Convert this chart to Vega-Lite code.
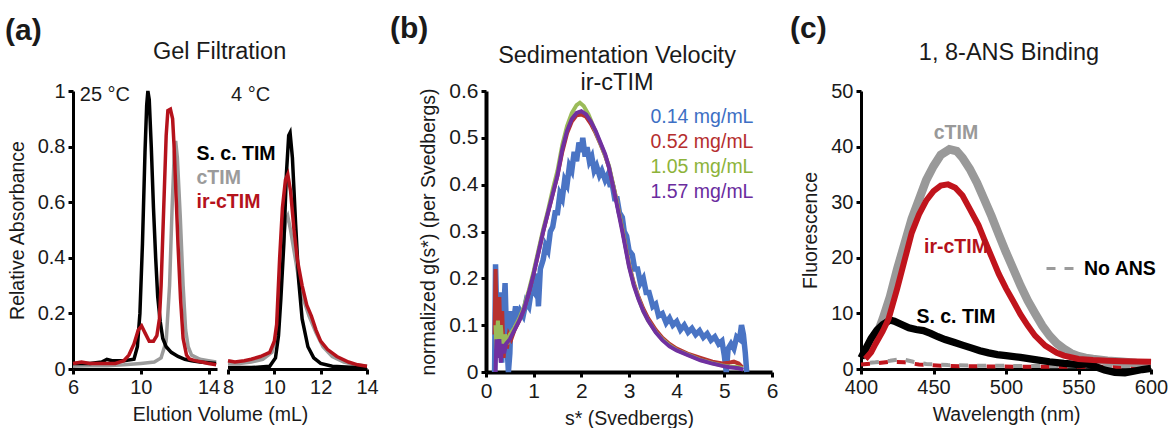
{
 "$schema": "https://vega.github.io/schema/vega-lite/v6.json",
 "padding": {"left": 5, "top": 14, "right": 0, "bottom": 0},
 "background": "white",
 "config": {
  "font": "Liberation Sans",
  "view": {"stroke": null},
  "axis": {"domainColor": "#000", "domainWidth": 3, "tickColor": "#000", "tickWidth": 3, "tickSize": 5, "grid": false, "labelFontSize": 20, "labelColor": "#1a1a1a", "titleFontSize": 19.5, "titleFontWeight": "normal", "titleColor": "#1a1a1a", "labelPadding": 3, "titlePadding": 8, "labelFlush": false},
  "title": {"color": "#1a1a1a", "baseline": "bottom"},
  "legend": {"labelFont": "Liberation Sans"}
 },
 "datasets": {
  "gel": [
   {"temp":"25","protein":"cTIM","vol":6.0,"abs":0.01},{"temp":"25","protein":"cTIM","vol":7.0,"abs":0.012},{"temp":"25","protein":"cTIM","vol":8.0,"abs":0.012},{"temp":"25","protein":"cTIM","vol":9.0,"abs":0.015},{"temp":"25","protein":"cTIM","vol":10.0,"abs":0.02},{"temp":"25","protein":"cTIM","vol":10.8,"abs":0.025},{"temp":"25","protein":"cTIM","vol":11.2,"abs":0.04},{"temp":"25","protein":"cTIM","vol":11.5,"abs":0.1},{"temp":"25","protein":"cTIM","vol":11.7,"abs":0.3},{"temp":"25","protein":"cTIM","vol":11.85,"abs":0.58},{"temp":"25","protein":"cTIM","vol":11.98,"abs":0.78},{"temp":"25","protein":"cTIM","vol":12.06,"abs":0.82},{"temp":"25","protein":"cTIM","vol":12.16,"abs":0.76},{"temp":"25","protein":"cTIM","vol":12.33,"abs":0.55},{"temp":"25","protein":"cTIM","vol":12.5,"abs":0.3},{"temp":"25","protein":"cTIM","vol":12.65,"abs":0.14},{"temp":"25","protein":"cTIM","vol":12.8,"abs":0.08},{"temp":"25","protein":"cTIM","vol":13.0,"abs":0.05},{"temp":"25","protein":"cTIM","vol":13.5,"abs":0.035},{"temp":"25","protein":"cTIM","vol":14.0,"abs":0.03},{"temp":"25","protein":"cTIM","vol":14.45,"abs":0.025},
   {"temp":"25","protein":"S. c. TIM","vol":6.0,"abs":0.02},{"temp":"25","protein":"S. c. TIM","vol":7.0,"abs":0.02},{"temp":"25","protein":"S. c. TIM","vol":7.7,"abs":0.025},{"temp":"25","protein":"S. c. TIM","vol":8.0,"abs":0.035},{"temp":"25","protein":"S. c. TIM","vol":8.3,"abs":0.03},{"temp":"25","protein":"S. c. TIM","vol":9.0,"abs":0.03},{"temp":"25","protein":"S. c. TIM","vol":9.6,"abs":0.035},{"temp":"25","protein":"S. c. TIM","vol":9.8,"abs":0.08},{"temp":"25","protein":"S. c. TIM","vol":9.95,"abs":0.2},{"temp":"25","protein":"S. c. TIM","vol":10.1,"abs":0.45},{"temp":"25","protein":"S. c. TIM","vol":10.25,"abs":0.78},{"temp":"25","protein":"S. c. TIM","vol":10.35,"abs":0.95},{"temp":"25","protein":"S. c. TIM","vol":10.42,"abs":1.0},{"temp":"25","protein":"S. c. TIM","vol":10.5,"abs":0.97},{"temp":"25","protein":"S. c. TIM","vol":10.62,"abs":0.8},{"temp":"25","protein":"S. c. TIM","vol":10.75,"abs":0.58},{"temp":"25","protein":"S. c. TIM","vol":10.88,"abs":0.4},{"temp":"25","protein":"S. c. TIM","vol":11.0,"abs":0.26},{"temp":"25","protein":"S. c. TIM","vol":11.15,"abs":0.17},{"temp":"25","protein":"S. c. TIM","vol":11.3,"abs":0.11},{"temp":"25","protein":"S. c. TIM","vol":11.5,"abs":0.08},{"temp":"25","protein":"S. c. TIM","vol":11.8,"abs":0.06},{"temp":"25","protein":"S. c. TIM","vol":12.2,"abs":0.045},{"temp":"25","protein":"S. c. TIM","vol":12.6,"abs":0.035},{"temp":"25","protein":"S. c. TIM","vol":13.0,"abs":0.03},{"temp":"25","protein":"S. c. TIM","vol":13.5,"abs":0.025},{"temp":"25","protein":"S. c. TIM","vol":14.45,"abs":0.02},
   {"temp":"25","protein":"ir-cTIM","vol":6.0,"abs":0.02},{"temp":"25","protein":"ir-cTIM","vol":6.5,"abs":0.025},{"temp":"25","protein":"ir-cTIM","vol":7.0,"abs":0.02},{"temp":"25","protein":"ir-cTIM","vol":7.5,"abs":0.02},{"temp":"25","protein":"ir-cTIM","vol":8.0,"abs":0.02},{"temp":"25","protein":"ir-cTIM","vol":8.5,"abs":0.02},{"temp":"25","protein":"ir-cTIM","vol":9.0,"abs":0.03},{"temp":"25","protein":"ir-cTIM","vol":9.3,"abs":0.05},{"temp":"25","protein":"ir-cTIM","vol":9.6,"abs":0.09},{"temp":"25","protein":"ir-cTIM","vol":9.85,"abs":0.14},{"temp":"25","protein":"ir-cTIM","vol":10.05,"abs":0.155},{"temp":"25","protein":"ir-cTIM","vol":10.25,"abs":0.13},{"temp":"25","protein":"ir-cTIM","vol":10.5,"abs":0.1},{"temp":"25","protein":"ir-cTIM","vol":10.75,"abs":0.1},{"temp":"25","protein":"ir-cTIM","vol":10.95,"abs":0.12},{"temp":"25","protein":"ir-cTIM","vol":11.1,"abs":0.18},{"temp":"25","protein":"ir-cTIM","vol":11.2,"abs":0.3},{"temp":"25","protein":"ir-cTIM","vol":11.35,"abs":0.57},{"temp":"25","protein":"ir-cTIM","vol":11.5,"abs":0.84},{"temp":"25","protein":"ir-cTIM","vol":11.6,"abs":0.93},{"temp":"25","protein":"ir-cTIM","vol":11.75,"abs":0.935},{"temp":"25","protein":"ir-cTIM","vol":11.88,"abs":0.9},{"temp":"25","protein":"ir-cTIM","vol":11.96,"abs":0.81},{"temp":"25","protein":"ir-cTIM","vol":12.1,"abs":0.6},{"temp":"25","protein":"ir-cTIM","vol":12.2,"abs":0.445},{"temp":"25","protein":"ir-cTIM","vol":12.35,"abs":0.25},{"temp":"25","protein":"ir-cTIM","vol":12.5,"abs":0.11},{"temp":"25","protein":"ir-cTIM","vol":12.7,"abs":0.05},{"temp":"25","protein":"ir-cTIM","vol":12.87,"abs":0.036},{"temp":"25","protein":"ir-cTIM","vol":13.2,"abs":0.03},{"temp":"25","protein":"ir-cTIM","vol":13.6,"abs":0.025},{"temp":"25","protein":"ir-cTIM","vol":14.0,"abs":0.02},{"temp":"25","protein":"ir-cTIM","vol":14.45,"abs":0.015},
   {"temp":"4","protein":"cTIM","vol":8.0,"abs":0.02},{"temp":"4","protein":"cTIM","vol":8.5,"abs":0.02},{"temp":"4","protein":"cTIM","vol":9.0,"abs":0.025},{"temp":"4","protein":"cTIM","vol":9.5,"abs":0.035},{"temp":"4","protein":"cTIM","vol":9.9,"abs":0.06},{"temp":"4","protein":"cTIM","vol":10.1,"abs":0.13},{"temp":"4","protein":"cTIM","vol":10.3,"abs":0.38},{"temp":"4","protein":"cTIM","vol":10.48,"abs":0.53},{"temp":"4","protein":"cTIM","vol":10.58,"abs":0.55},{"temp":"4","protein":"cTIM","vol":10.7,"abs":0.5},{"temp":"4","protein":"cTIM","vol":10.9,"abs":0.4},{"temp":"4","protein":"cTIM","vol":11.1,"abs":0.3},{"temp":"4","protein":"cTIM","vol":11.3,"abs":0.24},{"temp":"4","protein":"cTIM","vol":11.5,"abs":0.19},{"temp":"4","protein":"cTIM","vol":11.8,"abs":0.13},{"temp":"4","protein":"cTIM","vol":12.1,"abs":0.08},{"temp":"4","protein":"cTIM","vol":12.5,"abs":0.045},{"temp":"4","protein":"cTIM","vol":13.0,"abs":0.025},{"temp":"4","protein":"cTIM","vol":13.5,"abs":0.015},{"temp":"4","protein":"cTIM","vol":14.0,"abs":0.01},
   {"temp":"4","protein":"S. c. TIM","vol":8.0,"abs":0.005},{"temp":"4","protein":"S. c. TIM","vol":9.0,"abs":0.005},{"temp":"4","protein":"S. c. TIM","vol":9.8,"abs":0.01},{"temp":"4","protein":"S. c. TIM","vol":10.05,"abs":0.04},{"temp":"4","protein":"S. c. TIM","vol":10.18,"abs":0.12},{"temp":"4","protein":"S. c. TIM","vol":10.28,"abs":0.25},{"temp":"4","protein":"S. c. TIM","vol":10.41,"abs":0.45},{"temp":"4","protein":"S. c. TIM","vol":10.52,"abs":0.7},{"temp":"4","protein":"S. c. TIM","vol":10.62,"abs":0.84},{"temp":"4","protein":"S. c. TIM","vol":10.68,"abs":0.85},{"temp":"4","protein":"S. c. TIM","vol":10.78,"abs":0.76},{"temp":"4","protein":"S. c. TIM","vol":10.92,"abs":0.52},{"temp":"4","protein":"S. c. TIM","vol":11.05,"abs":0.32},{"temp":"4","protein":"S. c. TIM","vol":11.2,"abs":0.18},{"temp":"4","protein":"S. c. TIM","vol":11.45,"abs":0.08},{"temp":"4","protein":"S. c. TIM","vol":11.7,"abs":0.04},{"temp":"4","protein":"S. c. TIM","vol":12.0,"abs":0.02},{"temp":"4","protein":"S. c. TIM","vol":12.5,"abs":0.01},{"temp":"4","protein":"S. c. TIM","vol":13.5,"abs":0.005},{"temp":"4","protein":"S. c. TIM","vol":14.0,"abs":0.005},
   {"temp":"4","protein":"ir-cTIM","vol":8.0,"abs":0.03},{"temp":"4","protein":"ir-cTIM","vol":8.3,"abs":0.025},{"temp":"4","protein":"ir-cTIM","vol":8.7,"abs":0.03},{"temp":"4","protein":"ir-cTIM","vol":9.0,"abs":0.035},{"temp":"4","protein":"ir-cTIM","vol":9.4,"abs":0.045},{"temp":"4","protein":"ir-cTIM","vol":9.8,"abs":0.06},{"temp":"4","protein":"ir-cTIM","vol":10.0,"abs":0.1},{"temp":"4","protein":"ir-cTIM","vol":10.1,"abs":0.16},{"temp":"4","protein":"ir-cTIM","vol":10.23,"abs":0.4},{"temp":"4","protein":"ir-cTIM","vol":10.35,"abs":0.58},{"temp":"4","protein":"ir-cTIM","vol":10.48,"abs":0.68},{"temp":"4","protein":"ir-cTIM","vol":10.58,"abs":0.7},{"temp":"4","protein":"ir-cTIM","vol":10.7,"abs":0.64},{"temp":"4","protein":"ir-cTIM","vol":10.85,"abs":0.5},{"temp":"4","protein":"ir-cTIM","vol":11.0,"abs":0.39},{"temp":"4","protein":"ir-cTIM","vol":11.2,"abs":0.3},{"temp":"4","protein":"ir-cTIM","vol":11.4,"abs":0.23},{"temp":"4","protein":"ir-cTIM","vol":11.6,"abs":0.19},{"temp":"4","protein":"ir-cTIM","vol":11.8,"abs":0.14},{"temp":"4","protein":"ir-cTIM","vol":12.0,"abs":0.1},{"temp":"4","protein":"ir-cTIM","vol":12.3,"abs":0.07},{"temp":"4","protein":"ir-cTIM","vol":12.7,"abs":0.045},{"temp":"4","protein":"ir-cTIM","vol":13.2,"abs":0.025},{"temp":"4","protein":"ir-cTIM","vol":13.6,"abs":0.015},{"temp":"4","protein":"ir-cTIM","vol":14.0,"abs":0.01}
  ],
  "sed": [
   {"conc":"0.14 mg/mL","s":0.18,"g":0},{"conc":"0.14 mg/mL","s":0.2,"g":0.23},{"conc":"0.14 mg/mL","s":0.23,"g":0.1},{"conc":"0.14 mg/mL","s":0.26,"g":0.05},{"conc":"0.14 mg/mL","s":0.3,"g":0.17},{"conc":"0.14 mg/mL","s":0.33,"g":0.02},{"conc":"0.14 mg/mL","s":0.36,"g":0.1},{"conc":"0.14 mg/mL","s":0.4,"g":0.19},{"conc":"0.14 mg/mL","s":0.43,"g":0.08},{"conc":"0.14 mg/mL","s":0.47,"g":0},{"conc":"0.14 mg/mL","s":0.5,"g":0.04},{"conc":"0.14 mg/mL","s":0.53,"g":0.13},{"conc":"0.14 mg/mL","s":0.57,"g":0.1},{"conc":"0.14 mg/mL","s":0.62,"g":0.14},{"conc":"0.14 mg/mL","s":0.67,"g":0.11},{"conc":"0.14 mg/mL","s":0.72,"g":0.13},{"conc":"0.14 mg/mL","s":0.78,"g":0.12},{"conc":"0.14 mg/mL","s":0.84,"g":0.15},{"conc":"0.14 mg/mL","s":0.9,"g":0.14},{"conc":"0.14 mg/mL","s":0.96,"g":0.18},{"conc":"0.14 mg/mL","s":1.02,"g":0.17},{"conc":"0.14 mg/mL","s":1.07,"g":0.21},{"conc":"0.14 mg/mL","s":1.1,"g":0.14},{"conc":"0.14 mg/mL","s":1.14,"g":0.22},{"conc":"0.14 mg/mL","s":1.2,"g":0.24},{"conc":"0.14 mg/mL","s":1.25,"g":0.27},{"conc":"0.14 mg/mL","s":1.3,"g":0.26},{"conc":"0.14 mg/mL","s":1.35,"g":0.3},{"conc":"0.14 mg/mL","s":1.4,"g":0.31},{"conc":"0.14 mg/mL","s":1.45,"g":0.34},{"conc":"0.14 mg/mL","s":1.5,"g":0.34},{"conc":"0.14 mg/mL","s":1.55,"g":0.38},{"conc":"0.14 mg/mL","s":1.6,"g":0.37},{"conc":"0.14 mg/mL","s":1.65,"g":0.41},{"conc":"0.14 mg/mL","s":1.7,"g":0.4},{"conc":"0.14 mg/mL","s":1.75,"g":0.44},{"conc":"0.14 mg/mL","s":1.8,"g":0.43},{"conc":"0.14 mg/mL","s":1.85,"g":0.47},{"conc":"0.14 mg/mL","s":1.9,"g":0.45},{"conc":"0.14 mg/mL","s":1.95,"g":0.49},{"conc":"0.14 mg/mL","s":2.0,"g":0.47},{"conc":"0.14 mg/mL","s":2.03,"g":0.5},{"conc":"0.14 mg/mL","s":2.08,"g":0.46},{"conc":"0.14 mg/mL","s":2.12,"g":0.48},{"conc":"0.14 mg/mL","s":2.17,"g":0.45},{"conc":"0.14 mg/mL","s":2.22,"g":0.46},{"conc":"0.14 mg/mL","s":2.27,"g":0.43},{"conc":"0.14 mg/mL","s":2.32,"g":0.44},{"conc":"0.14 mg/mL","s":2.38,"g":0.42},{"conc":"0.14 mg/mL","s":2.43,"g":0.43},{"conc":"0.14 mg/mL","s":2.5,"g":0.41},{"conc":"0.14 mg/mL","s":2.55,"g":0.42},{"conc":"0.14 mg/mL","s":2.6,"g":0.4},{"conc":"0.14 mg/mL","s":2.65,"g":0.4},{"conc":"0.14 mg/mL","s":2.7,"g":0.37},{"conc":"0.14 mg/mL","s":2.75,"g":0.37},{"conc":"0.14 mg/mL","s":2.8,"g":0.34},{"conc":"0.14 mg/mL","s":2.86,"g":0.33},{"conc":"0.14 mg/mL","s":2.9,"g":0.3},{"conc":"0.14 mg/mL","s":2.95,"g":0.29},{"conc":"0.14 mg/mL","s":3.0,"g":0.26},{"conc":"0.14 mg/mL","s":3.07,"g":0.25},{"conc":"0.14 mg/mL","s":3.12,"g":0.22},{"conc":"0.14 mg/mL","s":3.18,"g":0.22},{"conc":"0.14 mg/mL","s":3.24,"g":0.19},{"conc":"0.14 mg/mL","s":3.3,"g":0.2},{"conc":"0.14 mg/mL","s":3.36,"g":0.17},{"conc":"0.14 mg/mL","s":3.42,"g":0.17},{"conc":"0.14 mg/mL","s":3.5,"g":0.14},{"conc":"0.14 mg/mL","s":3.56,"g":0.145},{"conc":"0.14 mg/mL","s":3.62,"g":0.12},{"conc":"0.14 mg/mL","s":3.7,"g":0.125},{"conc":"0.14 mg/mL","s":3.78,"g":0.105},{"conc":"0.14 mg/mL","s":3.85,"g":0.115},{"conc":"0.14 mg/mL","s":3.92,"g":0.1},{"conc":"0.14 mg/mL","s":4.0,"g":0.108},{"conc":"0.14 mg/mL","s":4.08,"g":0.09},{"conc":"0.14 mg/mL","s":4.16,"g":0.1},{"conc":"0.14 mg/mL","s":4.24,"g":0.085},{"conc":"0.14 mg/mL","s":4.32,"g":0.093},{"conc":"0.14 mg/mL","s":4.4,"g":0.08},{"conc":"0.14 mg/mL","s":4.48,"g":0.088},{"conc":"0.14 mg/mL","s":4.56,"g":0.074},{"conc":"0.14 mg/mL","s":4.64,"g":0.082},{"conc":"0.14 mg/mL","s":4.72,"g":0.068},{"conc":"0.14 mg/mL","s":4.8,"g":0.075},{"conc":"0.14 mg/mL","s":4.88,"g":0.06},{"conc":"0.14 mg/mL","s":4.95,"g":0.066},{"conc":"0.14 mg/mL","s":5.0,"g":0.035},{"conc":"0.14 mg/mL","s":5.04,"g":0.0},{"conc":"0.14 mg/mL","s":5.08,"g":0.05},{"conc":"0.14 mg/mL","s":5.14,"g":0.06},{"conc":"0.14 mg/mL","s":5.2,"g":0.05},{"conc":"0.14 mg/mL","s":5.26,"g":0.075},{"conc":"0.14 mg/mL","s":5.32,"g":0.07},{"conc":"0.14 mg/mL","s":5.36,"g":0.1},{"conc":"0.14 mg/mL","s":5.4,"g":0.08},{"conc":"0.14 mg/mL","s":5.44,"g":0.04},{"conc":"0.14 mg/mL","s":5.47,"g":0},
   {"conc":"0.52 mg/mL","s":0.18,"g":0.08},{"conc":"0.52 mg/mL","s":0.2,"g":0.22},{"conc":"0.52 mg/mL","s":0.22,"g":0.12},{"conc":"0.52 mg/mL","s":0.25,"g":0.04},{"conc":"0.52 mg/mL","s":0.28,"g":0.16},{"conc":"0.52 mg/mL","s":0.31,"g":0.05},{"conc":"0.52 mg/mL","s":0.34,"g":0.13},{"conc":"0.52 mg/mL","s":0.37,"g":0.03},{"conc":"0.52 mg/mL","s":0.4,"g":0.08},{"conc":"0.52 mg/mL","s":0.44,"g":0.05},{"conc":"0.52 mg/mL","s":0.48,"g":0.08},{"conc":"0.52 mg/mL","s":0.53,"g":0.07},{"conc":"0.52 mg/mL","s":0.6,"g":0.09},{"conc":"0.52 mg/mL","s":0.7,"g":0.11},{"conc":"0.52 mg/mL","s":0.8,"g":0.135},{"conc":"0.52 mg/mL","s":0.9,"g":0.17},{"conc":"0.52 mg/mL","s":1.0,"g":0.21},{"conc":"0.52 mg/mL","s":1.1,"g":0.255},{"conc":"0.52 mg/mL","s":1.2,"g":0.3},{"conc":"0.52 mg/mL","s":1.3,"g":0.34},{"conc":"0.52 mg/mL","s":1.4,"g":0.38},{"conc":"0.52 mg/mL","s":1.5,"g":0.42},{"conc":"0.52 mg/mL","s":1.6,"g":0.47},{"conc":"0.52 mg/mL","s":1.7,"g":0.51},{"conc":"0.52 mg/mL","s":1.8,"g":0.535},{"conc":"0.52 mg/mL","s":1.9,"g":0.548},{"conc":"0.52 mg/mL","s":2.0,"g":0.55},{"conc":"0.52 mg/mL","s":2.1,"g":0.545},{"conc":"0.52 mg/mL","s":2.2,"g":0.53},{"conc":"0.52 mg/mL","s":2.3,"g":0.51},{"conc":"0.52 mg/mL","s":2.4,"g":0.487},{"conc":"0.52 mg/mL","s":2.5,"g":0.462},{"conc":"0.52 mg/mL","s":2.58,"g":0.437},{"conc":"0.52 mg/mL","s":2.7,"g":0.385},{"conc":"0.52 mg/mL","s":2.8,"g":0.335},{"conc":"0.52 mg/mL","s":2.86,"g":0.305},{"conc":"0.52 mg/mL","s":3.0,"g":0.23},{"conc":"0.52 mg/mL","s":3.1,"g":0.19},{"conc":"0.52 mg/mL","s":3.2,"g":0.16},{"conc":"0.52 mg/mL","s":3.3,"g":0.135},{"conc":"0.52 mg/mL","s":3.4,"g":0.115},{"conc":"0.52 mg/mL","s":3.56,"g":0.09},{"conc":"0.52 mg/mL","s":3.7,"g":0.073},{"conc":"0.52 mg/mL","s":3.85,"g":0.06},{"conc":"0.52 mg/mL","s":4.0,"g":0.05},{"conc":"0.52 mg/mL","s":4.26,"g":0.038},{"conc":"0.52 mg/mL","s":4.5,"g":0.03},{"conc":"0.52 mg/mL","s":4.75,"g":0.022},{"conc":"0.52 mg/mL","s":4.96,"g":0.018},{"conc":"0.52 mg/mL","s":5.1,"g":0.02},{"conc":"0.52 mg/mL","s":5.2,"g":0.022},{"conc":"0.52 mg/mL","s":5.3,"g":0.018},{"conc":"0.52 mg/mL","s":5.38,"g":0.01},
   {"conc":"1.05 mg/mL","s":0.2,"g":0.1},{"conc":"1.05 mg/mL","s":0.22,"g":0.05},{"conc":"1.05 mg/mL","s":0.25,"g":0.11},{"conc":"1.05 mg/mL","s":0.28,"g":0.04},{"conc":"1.05 mg/mL","s":0.31,"g":0.1},{"conc":"1.05 mg/mL","s":0.35,"g":0.05},{"conc":"1.05 mg/mL","s":0.4,"g":0.08},{"conc":"1.05 mg/mL","s":0.45,"g":0.06},{"conc":"1.05 mg/mL","s":0.5,"g":0.08},{"conc":"1.05 mg/mL","s":0.6,"g":0.095},{"conc":"1.05 mg/mL","s":0.7,"g":0.115},{"conc":"1.05 mg/mL","s":0.8,"g":0.14},{"conc":"1.05 mg/mL","s":0.9,"g":0.175},{"conc":"1.05 mg/mL","s":1.0,"g":0.215},{"conc":"1.05 mg/mL","s":1.1,"g":0.26},{"conc":"1.05 mg/mL","s":1.2,"g":0.305},{"conc":"1.05 mg/mL","s":1.3,"g":0.345},{"conc":"1.05 mg/mL","s":1.4,"g":0.39},{"conc":"1.05 mg/mL","s":1.5,"g":0.43},{"conc":"1.05 mg/mL","s":1.6,"g":0.485},{"conc":"1.05 mg/mL","s":1.7,"g":0.525},{"conc":"1.05 mg/mL","s":1.8,"g":0.553},{"conc":"1.05 mg/mL","s":1.9,"g":0.57},{"conc":"1.05 mg/mL","s":1.97,"g":0.575},{"conc":"1.05 mg/mL","s":2.05,"g":0.568},{"conc":"1.05 mg/mL","s":2.15,"g":0.55},{"conc":"1.05 mg/mL","s":2.25,"g":0.525},{"conc":"1.05 mg/mL","s":2.35,"g":0.5},{"conc":"1.05 mg/mL","s":2.45,"g":0.475},{"conc":"1.05 mg/mL","s":2.58,"g":0.44},{"conc":"1.05 mg/mL","s":2.7,"g":0.385},{"conc":"1.05 mg/mL","s":2.8,"g":0.335},{"conc":"1.05 mg/mL","s":2.86,"g":0.305},{"conc":"1.05 mg/mL","s":3.0,"g":0.228},{"conc":"1.05 mg/mL","s":3.1,"g":0.188},{"conc":"1.05 mg/mL","s":3.2,"g":0.157},{"conc":"1.05 mg/mL","s":3.3,"g":0.13},{"conc":"1.05 mg/mL","s":3.4,"g":0.11},{"conc":"1.05 mg/mL","s":3.56,"g":0.086},{"conc":"1.05 mg/mL","s":3.7,"g":0.07},{"conc":"1.05 mg/mL","s":3.85,"g":0.057},{"conc":"1.05 mg/mL","s":4.0,"g":0.047},{"conc":"1.05 mg/mL","s":4.26,"g":0.036},{"conc":"1.05 mg/mL","s":4.5,"g":0.026},{"conc":"1.05 mg/mL","s":4.75,"g":0.019},{"conc":"1.05 mg/mL","s":4.96,"g":0.014},{"conc":"1.05 mg/mL","s":5.1,"g":0.012},{"conc":"1.05 mg/mL","s":5.3,"g":0.01},{"conc":"1.05 mg/mL","s":5.38,"g":0.008},
   {"conc":"1.57 mg/mL","s":0.2,"g":0},{"conc":"1.57 mg/mL","s":0.22,"g":0.07},{"conc":"1.57 mg/mL","s":0.25,"g":0.03},{"conc":"1.57 mg/mL","s":0.28,"g":0.07},{"conc":"1.57 mg/mL","s":0.31,"g":0.02},{"conc":"1.57 mg/mL","s":0.34,"g":0.06},{"conc":"1.57 mg/mL","s":0.38,"g":0.04},{"conc":"1.57 mg/mL","s":0.42,"g":0.06},{"conc":"1.57 mg/mL","s":0.5,"g":0.07},{"conc":"1.57 mg/mL","s":0.6,"g":0.09},{"conc":"1.57 mg/mL","s":0.7,"g":0.11},{"conc":"1.57 mg/mL","s":0.8,"g":0.135},{"conc":"1.57 mg/mL","s":0.9,"g":0.17},{"conc":"1.57 mg/mL","s":1.0,"g":0.21},{"conc":"1.57 mg/mL","s":1.1,"g":0.255},{"conc":"1.57 mg/mL","s":1.2,"g":0.3},{"conc":"1.57 mg/mL","s":1.3,"g":0.34},{"conc":"1.57 mg/mL","s":1.4,"g":0.38},{"conc":"1.57 mg/mL","s":1.5,"g":0.42},{"conc":"1.57 mg/mL","s":1.6,"g":0.475},{"conc":"1.57 mg/mL","s":1.7,"g":0.515},{"conc":"1.57 mg/mL","s":1.8,"g":0.54},{"conc":"1.57 mg/mL","s":1.9,"g":0.553},{"conc":"1.57 mg/mL","s":2.0,"g":0.557},{"conc":"1.57 mg/mL","s":2.1,"g":0.55},{"conc":"1.57 mg/mL","s":2.2,"g":0.535},{"conc":"1.57 mg/mL","s":2.3,"g":0.515},{"conc":"1.57 mg/mL","s":2.4,"g":0.49},{"conc":"1.57 mg/mL","s":2.5,"g":0.465},{"conc":"1.57 mg/mL","s":2.58,"g":0.437},{"conc":"1.57 mg/mL","s":2.7,"g":0.38},{"conc":"1.57 mg/mL","s":2.8,"g":0.33},{"conc":"1.57 mg/mL","s":2.86,"g":0.3},{"conc":"1.57 mg/mL","s":3.0,"g":0.225},{"conc":"1.57 mg/mL","s":3.1,"g":0.185},{"conc":"1.57 mg/mL","s":3.2,"g":0.155},{"conc":"1.57 mg/mL","s":3.3,"g":0.13},{"conc":"1.57 mg/mL","s":3.4,"g":0.11},{"conc":"1.57 mg/mL","s":3.56,"g":0.085},{"conc":"1.57 mg/mL","s":3.7,"g":0.068},{"conc":"1.57 mg/mL","s":3.85,"g":0.055},{"conc":"1.57 mg/mL","s":4.0,"g":0.046},{"conc":"1.57 mg/mL","s":4.26,"g":0.035},{"conc":"1.57 mg/mL","s":4.5,"g":0.025},{"conc":"1.57 mg/mL","s":4.75,"g":0.018},{"conc":"1.57 mg/mL","s":4.96,"g":0.013},{"conc":"1.57 mg/mL","s":5.1,"g":0.01},{"conc":"1.57 mg/mL","s":5.3,"g":0.008},{"conc":"1.57 mg/mL","s":5.4,"g":0.005}
  ],
  "ans": [
   {"series":"cTIM","wl":404,"f":2.5},{"series":"cTIM","wl":410,"f":5.5},{"series":"cTIM","wl":415,"f":9},{"series":"cTIM","wl":420,"f":13},{"series":"cTIM","wl":425,"f":18},{"series":"cTIM","wl":430,"f":22.5},{"series":"cTIM","wl":435,"f":27},{"series":"cTIM","wl":440,"f":30.5},{"series":"cTIM","wl":445,"f":34},{"series":"cTIM","wl":450,"f":36.5},{"series":"cTIM","wl":455,"f":38.5},{"series":"cTIM","wl":461,"f":39.5},{"series":"cTIM","wl":466,"f":39.2},{"series":"cTIM","wl":470,"f":38},{"series":"cTIM","wl":475,"f":36},{"series":"cTIM","wl":480,"f":33.5},{"series":"cTIM","wl":485,"f":30.5},{"series":"cTIM","wl":490,"f":27.5},{"series":"cTIM","wl":495,"f":24.2},{"series":"cTIM","wl":500,"f":21},{"series":"cTIM","wl":505,"f":18},{"series":"cTIM","wl":510,"f":15},{"series":"cTIM","wl":515,"f":12.3},{"series":"cTIM","wl":520,"f":10},{"series":"cTIM","wl":525,"f":7.8},{"series":"cTIM","wl":530,"f":6},{"series":"cTIM","wl":535,"f":4.6},{"series":"cTIM","wl":540,"f":3.6},{"series":"cTIM","wl":545,"f":2.8},{"series":"cTIM","wl":550,"f":2.3},{"series":"cTIM","wl":555,"f":2},{"series":"cTIM","wl":560,"f":1.8},{"series":"cTIM","wl":570,"f":1.5},{"series":"cTIM","wl":580,"f":1.3},{"series":"cTIM","wl":590,"f":1.1},{"series":"cTIM","wl":600,"f":1.0},
   {"series":"S. c. TIM","wl":400,"f":2},{"series":"S. c. TIM","wl":403,"f":3.5},{"series":"S. c. TIM","wl":407,"f":5.5},{"series":"S. c. TIM","wl":411,"f":7},{"series":"S. c. TIM","wl":415,"f":8},{"series":"S. c. TIM","wl":420,"f":8.8},{"series":"S. c. TIM","wl":423,"f":8.6},{"series":"S. c. TIM","wl":428,"f":8},{"series":"S. c. TIM","wl":433,"f":7.4},{"series":"S. c. TIM","wl":438,"f":7.1},{"series":"S. c. TIM","wl":443,"f":6.9},{"series":"S. c. TIM","wl":448,"f":6.4},{"series":"S. c. TIM","wl":453,"f":5.8},{"series":"S. c. TIM","wl":458,"f":5.3},{"series":"S. c. TIM","wl":464,"f":4.8},{"series":"S. c. TIM","wl":470,"f":4.3},{"series":"S. c. TIM","wl":476,"f":3.8},{"series":"S. c. TIM","wl":482,"f":3.3},{"series":"S. c. TIM","wl":488,"f":2.9},{"series":"S. c. TIM","wl":494,"f":2.6},{"series":"S. c. TIM","wl":500,"f":2.4},{"series":"S. c. TIM","wl":510,"f":2.1},{"series":"S. c. TIM","wl":520,"f":1.7},{"series":"S. c. TIM","wl":530,"f":1.3},{"series":"S. c. TIM","wl":540,"f":1.0},{"series":"S. c. TIM","wl":550,"f":0.8},{"series":"S. c. TIM","wl":556,"f":0.9},{"series":"S. c. TIM","wl":562,"f":0.4},{"series":"S. c. TIM","wl":568,"f":-0.2},{"series":"S. c. TIM","wl":575,"f":-0.6},{"series":"S. c. TIM","wl":582,"f":-0.7},{"series":"S. c. TIM","wl":588,"f":-0.4},{"series":"S. c. TIM","wl":594,"f":-0.1},{"series":"S. c. TIM","wl":600,"f":0.1},
   {"series":"ir-cTIM","wl":403,"f":1.8},{"series":"ir-cTIM","wl":407,"f":3},{"series":"ir-cTIM","wl":410,"f":4.5},{"series":"ir-cTIM","wl":415,"f":6.8},{"series":"ir-cTIM","wl":419,"f":9},{"series":"ir-cTIM","wl":425,"f":14.5},{"series":"ir-cTIM","wl":430,"f":19.5},{"series":"ir-cTIM","wl":435,"f":24.5},{"series":"ir-cTIM","wl":440,"f":27.8},{"series":"ir-cTIM","wl":445,"f":30.3},{"series":"ir-cTIM","wl":450,"f":32},{"series":"ir-cTIM","wl":455,"f":33},{"series":"ir-cTIM","wl":460,"f":33.2},{"series":"ir-cTIM","wl":465,"f":32.6},{"series":"ir-cTIM","wl":470,"f":31.2},{"series":"ir-cTIM","wl":475,"f":28.8},{"series":"ir-cTIM","wl":481,"f":25.9},{"series":"ir-cTIM","wl":485,"f":23.3},{"series":"ir-cTIM","wl":490,"f":20.2},{"series":"ir-cTIM","wl":495,"f":17.1},{"series":"ir-cTIM","wl":500,"f":14.5},{"series":"ir-cTIM","wl":505,"f":12.2},{"series":"ir-cTIM","wl":510,"f":9.8},{"series":"ir-cTIM","wl":515,"f":7.8},{"series":"ir-cTIM","wl":520,"f":6},{"series":"ir-cTIM","wl":527,"f":4.2},{"series":"ir-cTIM","wl":535,"f":2.9},{"series":"ir-cTIM","wl":540,"f":2.4},{"series":"ir-cTIM","wl":550,"f":1.8},{"series":"ir-cTIM","wl":560,"f":1.6},{"series":"ir-cTIM","wl":570,"f":1.5},{"series":"ir-cTIM","wl":580,"f":1.4},{"series":"ir-cTIM","wl":590,"f":1.35},{"series":"ir-cTIM","wl":600,"f":1.3},
   {"series":"No ANS ir-cTIM","ans":"No ANS","wl":400,"f":0.8},{"series":"No ANS ir-cTIM","ans":"No ANS","wl":410,"f":1.0},{"series":"No ANS ir-cTIM","ans":"No ANS","wl":420,"f":1.3},{"series":"No ANS ir-cTIM","ans":"No ANS","wl":430,"f":1.2},{"series":"No ANS ir-cTIM","ans":"No ANS","wl":440,"f":0.8},{"series":"No ANS ir-cTIM","ans":"No ANS","wl":455,"f":0.6},{"series":"No ANS ir-cTIM","ans":"No ANS","wl":470,"f":0.5},{"series":"No ANS ir-cTIM","ans":"No ANS","wl":490,"f":0.45},{"series":"No ANS ir-cTIM","ans":"No ANS","wl":520,"f":0.4},{"series":"No ANS ir-cTIM","ans":"No ANS","wl":550,"f":0.4},{"series":"No ANS ir-cTIM","ans":"No ANS","wl":580,"f":0.4},{"series":"No ANS ir-cTIM","ans":"No ANS","wl":600,"f":0.4},
   {"series":"No ANS cTIM","ans":"No ANS","wl":400,"f":1.0},{"series":"No ANS cTIM","ans":"No ANS","wl":410,"f":1.2},{"series":"No ANS cTIM","ans":"No ANS","wl":420,"f":1.5},{"series":"No ANS cTIM","ans":"No ANS","wl":428,"f":1.8},{"series":"No ANS cTIM","ans":"No ANS","wl":436,"f":1.3},{"series":"No ANS cTIM","ans":"No ANS","wl":445,"f":0.9},{"series":"No ANS cTIM","ans":"No ANS","wl":460,"f":0.7},{"series":"No ANS cTIM","ans":"No ANS","wl":480,"f":0.6},{"series":"No ANS cTIM","ans":"No ANS","wl":510,"f":0.55},{"series":"No ANS cTIM","ans":"No ANS","wl":540,"f":0.5},{"series":"No ANS cTIM","ans":"No ANS","wl":570,"f":0.5},{"series":"No ANS cTIM","ans":"No ANS","wl":600,"f":0.5}
  ]
 },
 "spacing": 11,
 "bounds": "flush",
 "resolve": {"scale": {"color": "independent", "strokeDash": "independent", "strokeWidth": "independent"}, "legend": {"color": "independent", "strokeDash": "independent", "strokeWidth": "independent"}},
 "hconcat": [
  {
   "width": 144, "height": 278,
   "title": {"text": "(a)", "anchor": "start", "frame": "group", "fontSize": 30, "fontWeight": "bold", "dx": -68, "offset": 35},
   "layer": [
    {
     "data": {"name": "gel"},
     "transform": [{"filter": "datum.temp == '25'"}],
     "mark": {"type": "line", "strokeWidth": 3.5},
     "encoding": {
      "x": {"field": "vol", "type": "quantitative", "scale": {"domain": [6, 14.5], "nice": false}, "axis": {"values": [6, 8, 10, 12, 14], "title": "Elution Volume (mL)", "titleX": 147, "titleAlign": "center"}},
      "y": {"field": "abs", "type": "quantitative", "scale": {"domain": [0, 1], "nice": false}, "axis": {"values": [0, 0.2, 0.4, 0.6, 0.8, 1], "format": "~g", "title": "Relative Absorbance", "titlePadding": 10}},
      "color": {"field": "protein", "type": "nominal", "scale": {"domain": ["S. c. TIM", "cTIM", "ir-cTIM"], "range": ["#000000", "#9b9b9b", "#b5121b"]},
       "legend": {"title": null, "orient": "none", "legendX": 104, "legendY": 53, "symbolOpacity": 0, "symbolSize": 1, "symbolStrokeWidth": 0, "labelOffset": 0, "labelFontSize": 19.5, "labelFontWeight": "bold", "rowPadding": 3, "padding": 0,
        "encode": {"labels": {"update": {"fill": {"signal": "datum.label === 'S. c. TIM' ? '#000000' : datum.label === 'cTIM' ? '#9b9b9b' : '#b5121b'"}}}}}}
     }
    },
    {
     "data": {"values": [{}]},
     "mark": {"type": "text", "align": "left", "baseline": "middle", "fontSize": 20, "color": "#1a1a1a"},
     "encoding": {"x": {"datum": 6.4, "type": "quantitative"}, "y": {"datum": 0.985, "type": "quantitative"}, "text": {"value": "25 °C"}}
    }
   ]
  },
  {
   "width": 139, "height": 278,
   "title": {"text": "Gel Filtration", "anchor": "start", "frame": "group", "fontSize": 23.5, "fontWeight": "normal", "dx": -75, "offset": 22},
   "layer": [
    {
     "data": {"name": "gel"},
     "transform": [{"filter": "datum.temp == '4'"}],
     "mark": {"type": "line", "strokeWidth": 3.5},
     "encoding": {
      "x": {"field": "vol", "type": "quantitative", "scale": {"domain": [8, 14], "nice": false}, "axis": {"values": [8, 10, 12, 14], "title": null}},
      "y": {"field": "abs", "type": "quantitative", "scale": {"domain": [0, 1], "nice": false}, "axis": null},
      "color": {"field": "protein", "type": "nominal", "scale": {"domain": ["S. c. TIM", "cTIM", "ir-cTIM"], "range": ["#000000", "#9b9b9b", "#b5121b"]}, "legend": null}
     }
    },
    {
     "data": {"values": [{}]},
     "mark": {"type": "text", "align": "left", "baseline": "middle", "fontSize": 20, "color": "#1a1a1a"},
     "encoding": {"x": {"datum": 8.13, "type": "quantitative"}, "y": {"datum": 0.985, "type": "quantitative"}, "text": {"value": "4 °C"}}
    }
   ]
  },
  {
   "width": 97, "height": 278,
   "title": {"text": "(b)", "anchor": "start", "frame": "group", "fontSize": 30, "fontWeight": "bold", "dx": 12, "offset": 47},
   "data": {"values": []},
   "mark": "point"
  },
  {
   "width": 286, "height": 281,
   "title": {"text": ["Sedimentation Velocity", "ir-cTIM"], "anchor": "middle", "frame": "group", "fontSize": 23.5, "fontWeight": "normal", "lineHeight": 27, "dx": -12, "offset": -14},
   "data": {"name": "sed"},
   "layer": [
    {
     "transform": [{"filter": "datum.conc == '0.14 mg/mL'"}],
     "mark": {"type": "line", "strokeWidth": 5.5},
     "encoding": {
      "x": {"field": "s", "type": "quantitative", "scale": {"domain": [0, 6], "nice": false}, "axis": {"values": [0, 1, 2, 3, 4, 5, 6], "title": "s* (Svedbergs)", "labelFontSize": 21, "domainWidth": 4}},
      "y": {"field": "g", "type": "quantitative", "scale": {"domain": [0, 0.6], "nice": false}, "axis": {"values": [0, 0.1, 0.2, 0.3, 0.4, 0.5, 0.6], "format": "~g", "title": "normalized g(s*) (per Svedbergs)", "labelFontSize": 21, "domainWidth": 4, "titlePadding": 10}},
      "color": {"field": "conc", "type": "nominal", "scale": {"domain": ["0.14 mg/mL", "0.52 mg/mL", "1.05 mg/mL", "1.57 mg/mL"], "range": ["#4a74c4", "#b8312f", "#9bbb59", "#7030a0"]},
       "legend": {"title": null, "orient": "none", "legendX": 145, "legendY": 16, "symbolOpacity": 0, "symbolSize": 1, "symbolStrokeWidth": 0, "labelOffset": 0, "labelFontSize": 19.5, "rowPadding": 4, "padding": 0,
        "encode": {"labels": {"update": {"fill": {"signal": "datum.label === '0.14 mg/mL' ? '#3d6fc4' : datum.label === '0.52 mg/mL' ? '#b52e2e' : datum.label === '1.05 mg/mL' ? '#8db33a' : '#6a2c9e'"}}}}}}
     }
    },
    {
     "transform": [{"filter": "datum.conc != '0.14 mg/mL'"}],
     "mark": {"type": "line", "strokeWidth": 4},
     "encoding": {
      "x": {"field": "s", "type": "quantitative"},
      "y": {"field": "g", "type": "quantitative"},
      "color": {"field": "conc", "type": "nominal"}
     }
    }
   ]
  },
  {
   "width": 67, "height": 278,
   "title": {"text": "(c)", "anchor": "start", "frame": "group", "fontSize": 30, "fontWeight": "bold", "dx": 7, "offset": 47},
   "data": {"values": []},
   "mark": "point"
  },
  {
   "width": 290, "height": 278,
   "title": {"text": "1, 8-ANS Binding", "anchor": "middle", "frame": "group", "fontSize": 23.5, "fontWeight": "normal", "dx": 3, "offset": 17},
   "layer": [
    {
     "data": {"name": "ans"},
     "transform": [{"filter": "datum.series == 'No ANS ir-cTIM'"}],
     "mark": {"type": "line", "strokeWidth": 4, "color": "#c0141c"},
     "encoding": {
      "x": {"field": "wl", "type": "quantitative", "scale": {"domain": [400, 600], "nice": false}, "axis": {"values": [400, 450, 500, 550, 600], "title": "Wavelength (nm)"}},
      "y": {"field": "f", "type": "quantitative", "scale": {"domain": [0, 50], "nice": false}, "axis": {"values": [0, 5, 10, 15, 20, 25, 30, 35, 40, 45, 50], "labelExpr": "datum.value % 10 === 0 ? datum.label : ''", "title": "Fluorescence", "titlePadding": 10}},
      "strokeDash": {"field": "ans", "type": "nominal", "scale": {"domain": ["No ANS"], "range": [[9, 9]]},
       "legend": {"title": null, "orient": "none", "legendX": 184, "legendY": 161, "symbolType": "stroke", "symbolStrokeColor": "#8a8a8a", "symbolStrokeWidth": 3, "symbolSize": 900, "labelFontSize": 19.5, "labelFontWeight": "bold", "labelColor": "#000000", "labelOffset": 6, "padding": 0}}
     }
    },
    {
     "data": {"name": "ans"},
     "transform": [{"filter": "datum.series == 'No ANS cTIM'"}],
     "mark": {"type": "line", "strokeWidth": 4, "color": "#9b9b9b", "strokeDashOffset": 9},
     "encoding": {
      "x": {"field": "wl", "type": "quantitative"},
      "y": {"field": "f", "type": "quantitative"},
      "strokeDash": {"field": "ans", "type": "nominal"}
     }
    },
    {
     "data": {"name": "ans"},
     "transform": [{"filter": "indexof(datum.series, 'No ANS') < 0"}],
     "mark": {"type": "line"},
     "encoding": {
      "x": {"field": "wl", "type": "quantitative"},
      "y": {"field": "f", "type": "quantitative"},
      "color": {"field": "series", "type": "nominal", "scale": {"domain": ["cTIM", "S. c. TIM", "ir-cTIM"], "range": ["#999999", "#000000", "#c0141c"]}, "legend": null},
      "strokeWidth": {"field": "series", "type": "nominal", "scale": {"domain": ["cTIM", "S. c. TIM", "ir-cTIM"], "range": [8.5, 6, 8.5]}, "legend": null}
     }
    },
    {
     "data": {"values": [{}]},
     "mark": {"type": "text", "fontSize": 19.5, "fontWeight": "bold", "color": "#999999"},
     "encoding": {"x": {"datum": 465.5, "type": "quantitative"}, "y": {"datum": 42.4, "type": "quantitative"}, "text": {"value": "cTIM"}}
    },
    {
     "data": {"values": [{}]},
     "mark": {"type": "text", "fontSize": 19.5, "fontWeight": "bold", "color": "#b5121b"},
     "encoding": {"x": {"datum": 465.5, "type": "quantitative"}, "y": {"datum": 22, "type": "quantitative"}, "text": {"value": "ir-cTIM"}}
    },
    {
     "data": {"values": [{}]},
     "mark": {"type": "text", "fontSize": 19.5, "fontWeight": "bold", "color": "#000000"},
     "encoding": {"x": {"datum": 465.5, "type": "quantitative"}, "y": {"datum": 9.4, "type": "quantitative"}, "text": {"value": "S. c. TIM"}}
    }
   ]
  }
 ]
}
